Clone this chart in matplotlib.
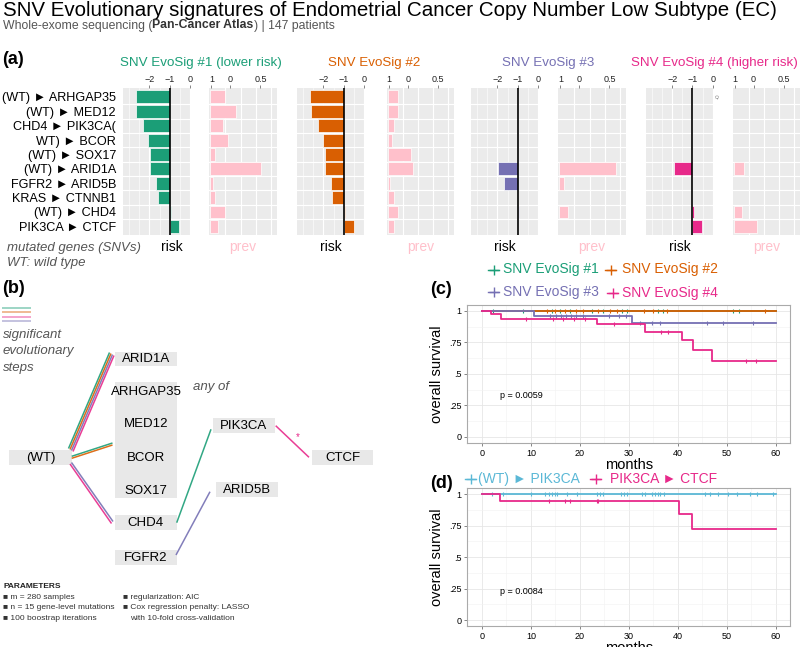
import matplotlib
matplotlib.use('Agg')
import matplotlib.pyplot as plt
import numpy as np
from matplotlib.patches import Rectangle

plt.rcParams['font.family'] = ['Liberation Sans', 'DejaVu Sans']

W, H = 800, 647
nan = np.nan

# ---------------- data ----------------
genes = ["(WT) \u25ba ARHGAP35", "(WT) \u25ba MED12", "CHD4 \u25ba PIK3CA(", "WT) \u25ba BCOR",
         "(WT) \u25ba SOX17", "(WT) \u25ba ARID1A", "FGFR2 \u25ba ARID5B", "KRAS \u25ba CTNNB1",
         "(WT) \u25ba CHD4", "PIK3CA \u25ba CTCF"]
sig_titles = ["SNV EvoSig #1 (lower risk)", "SNV EvoSig #2", "SNV EvoSig #3", "SNV EvoSig #4 (higher risk)"]
sig_colors = ["#1B9E77", "#D95F02", "#7570B3", "#E7298A"]
risk1 = [-2.66, -2.65, -2.32, -2.07, -1.98, -1.96, -1.68, -1.59, -0.95, -0.53]
risk2 = [-2.64, -2.63, -2.29, -2.03, -1.93, -1.92, -1.65, -1.56, -0.93, -0.52]
risk3 = [nan, nan, nan, nan, nan, -1.95, -1.68, nan, -0.95, nan]
risk4 = [nan, nan, nan, nan, nan, -1.91, nan, nan, -0.94, -0.55]
prev1 = [0.25, 0.42, 0.21, 0.30, 0.08, 0.84, 0.045, 0.08, 0.25, 0.13]
prev2 = [0.17, 0.17, 0.10, 0.07, 0.38, 0.42, 0.035, 0.10, 0.17, 0.10]
prev3 = [nan, nan, nan, nan, nan, 0.93, 0.07, nan, 0.14, nan]
prev4 = [nan, nan, nan, nan, nan, 0.17, nan, nan, 0.14, 0.38]
risk_base = -1
risk_ticks = [-2, -1, 0]
prev_tick_labels = ["1", "0", "0.5"]
prev_tick_pos = [0.017, 0.33, 0.83]

# Kaplan-Meier (c)
c_labels = ["SNV EvoSig #1", "SNV EvoSig #2", "SNV EvoSig #3", "SNV EvoSig #4"]
c_t1 = [0, 60]; c_s1 = [1, 1]
c_cens1 = [2.3, 8.4, 14.2, 15.9, 18, 22.4, 24.8, 28.5, 29.6, 36, 37, 51.3, 52.4]
c_t2 = [0, 60]; c_s2 = [1, 1]
c_cens2 = [13.2, 14.9, 17, 19.3, 20.7, 23.8, 26.1, 27.5, 33, 35, 37.7, 57.8]
c_t3 = [0, 10.6, 30.7, 60]; c_s3 = [1, 0.962, 0.902, 0.902]
c_cens3 = [13.9, 15.1, 16.1, 17.2, 18.2, 19.2, 20.6, 26, 28, 29.4, 32.3, 34.7, 36.4, 45.9, 49.3, 55.4]
c_t4 = [0, 1.8, 3.8, 23.5, 33.3, 40.8, 43.2, 46.9, 60]
c_s4 = [1, 0.975, 0.94, 0.897, 0.835, 0.766, 0.69, 0.605, 0.605]
c_cens4 = [9, 14.5, 16.6, 18.8, 21, 27, 36.5, 38, 54, 56]
c_p = "p = 0.0059"

# Kaplan-Meier (d)
d_labels = ["(WT) \u25ba PIK3CA", "PIK3CA \u25ba CTCF"]
d_colors = ["#5BB8D6", "#E7298A"]
d_t1 = [0, 60]; d_s1 = [1, 1]
d_cens1 = [2.0, 4.2, 10.0, 12.9, 13.6, 14.4, 14.9, 15.4, 17.4, 19.5, 23.4, 24.1, 24.8, 28.3, 29.0,
           29.7, 32.6, 33.3, 34.7, 35.3, 36.0, 36.4, 37.2, 45.6, 46.6, 48.3, 50.3, 52.0, 54.7, 56.1, 59.5]
d_t2 = [0, 3.7, 40.3, 42.9, 60]; d_s2 = [1, 0.947, 0.841, 0.724, 0.724]
d_cens2 = [13.6, 17, 18, 23.4, 23.8]
d_p = "p = 0.0084"
y_ticks = [0, 0.25, 0.5, 0.75, 1]
y_ticklabels = ["0", ".25", ".5", ".75", "1"]
x_ticks = [0, 10, 20, 30, 40, 50, 60]

# ---------------- figure ----------------
fig = plt.figure(figsize=(8, 6.47), dpi=100)


def box(x0, y0, x1, y1):
    return [x0 / W, 1 - y1 / H, (x1 - x0) / W, (y1 - y0) / H]


ax0 = fig.add_axes([0, 0, 1, 1])
ax0.set_xlim(0, W)
ax0.set_ylim(H, 0)
ax0.axis('off')

title = ax0.text(3, 16.5, "SNV Evolutionary signatures of Endometrial Cancer Copy Number Low Subtype (EC)",
                 fontsize=14, va='baseline', ha='left', color='black')
fig.canvas.draw()
tw = title.get_window_extent().width
title.set_fontsize(14 * 780 / tw)

t1 = ax0.text(3, 28.5, "Whole-exome sequencing (", fontsize=8.8, color='#555555', va='baseline', ha='left')
fig.canvas.draw()
t2 = ax0.annotate("Pan-Cancer Atlas", xy=(1, 0), xycoords=t1, va='bottom', ha='left',
                  fontsize=8.8, fontweight='bold', color='#333333')
ax0.annotate(") | 147 patients", xy=(1, 0), xycoords=t2, va='bottom', ha='left',
             fontsize=8.8, color='#555555')

ax0.text(2, 64, "(a)", fontsize=13, fontweight='bold', va='baseline', ha='left')
ax0.text(2, 293, "(b)", fontsize=13, fontweight='bold', va='baseline', ha='left')
ax0.text(430, 294, "(c)", fontsize=13, fontweight='bold', va='baseline', ha='left')
ax0.text(430, 488, "(d)", fontsize=13, fontweight='bold', va='baseline', ha='left')

# ---------------- panel (a) ----------------
risks = [risk1, risk2, risk3, risk4]
prevs = [prev1, prev2, prev3, prev4]
risk_x = [123, 297, 471, 645.7]
prev_x = [209.3, 386.7, 558.3, 732.7]
title_x = [201, 374, 548, 714]
risk_label_x = [0.73, 0.5, 0.5, 0.5]
pw = 67.5
top, bot = 88.3, 235
rows = np.arange(len(genes))


def style_panel(ax):
    ax.set_facecolor('#EBEBEB')
    for s in ax.spines.values():
        s.set_visible(False)
    ax.set_ylim(len(genes) - 0.4, -0.6)
    for b in np.arange(0.5, len(genes) - 0.5, 1):
        ax.axhline(b, color='white', lw=0.8, zorder=0.5)
    ax.xaxis.tick_top()
    ax.tick_params(axis='x', length=2, width=0.5, color='#555555', labelsize=6.5, pad=1,
                   labelcolor='#222222')
    ax.set_axisbelow(True)


for i in range(4):
    r = np.array(risks[i], dtype=float)
    p = np.array(prevs[i], dtype=float)
    axr = fig.add_axes(box(risk_x[i], top, risk_x[i] + pw, bot))
    style_panel(axr)
    axr.set_xlim(-3.3, 0.02)
    axr.set_xticks(risk_ticks)
    axr.set_xticks([-3, -2.5, -1.5, -0.5], minor=True)
    axr.tick_params(axis='x', which='minor', length=0)
    axr.grid(True, axis='x', which='major', color='white', lw=0.8)
    axr.grid(True, axis='x', which='minor', color='white', lw=0.4)
    m = ~np.isnan(r)
    axr.barh(rows[m], r[m] - risk_base, left=risk_base, height=0.9, color=sig_colors[i],
             edgecolor='white', linewidth=0.5, zorder=2)
    axr.axvline(risk_base, color='black', lw=1.2, zorder=3)
    if i == 0:
        axr.set_yticks(rows)
        axr.set_yticklabels(genes, fontsize=9.1)
        axr.tick_params(axis='y', length=0, pad=5)
    else:
        axr.set_yticks([])
    axr.text(risk_label_x[i], -0.035, "risk", transform=axr.transAxes, ha='center', va='top',
             fontsize=10, color='black')

    axp = fig.add_axes(box(prev_x[i], top, min(prev_x[i] + pw, W), bot))
    style_panel(axp)
    axp.set_xlim(-0.017, 1.1)
    for g in [0.25, 0.5, 0.75, 1.0]:
        axp.axvline(g, color='white', lw=0.8, zorder=0.5)
    axp.set_xticks(prev_tick_pos)
    axp.set_xticklabels(prev_tick_labels)
    axp.set_yticks([])
    mp = ~np.isnan(p)
    axp.barh(rows[mp], p[mp], left=0, height=0.9, color='#FFC0CB', edgecolor='white',
             linewidth=0.5, zorder=2)
    axp.text(0.5, -0.035, "prev", transform=axp.transAxes, ha='center', va='top',
             fontsize=10, color='#FFC0CB')

    ax0.text(title_x[i], 66, sig_titles[i], color=sig_colors[i], fontsize=9.6, ha='center',
             va='baseline')

ax0.text(718.5, 96, "-0", rotation=90, fontsize=4.5, color='#888888', ha='center', va='center')

ax0.text(7, 248, "mutated genes (SNVs)", fontsize=9.5, style='italic', color='#555555', va='center')
ax0.text(7, 263, "WT: wild type", fontsize=9.5, style='italic', color='#555555', va='center')

# ---------------- panel (b) ----------------
for y, c in zip([308.3, 311.7, 316.7, 321], [sig_colors[0], sig_colors[1], sig_colors[3], sig_colors[2]]):
    ax0.plot([2, 31], [y, y], color=c, alpha=0.5, lw=1.2, solid_capstyle='butt')
for y, s in zip([335, 351, 368], ["significant", "evolutionary", "steps"]):
    ax0.text(3, y, s, fontsize=9.5, style='italic', color='#555555', va='center')

box_color = '#E8E8E8'
nodes = {
    'ARID1A': (115, 351.7, 176.7, 366),
    'ANY': (115, 381.7, 176.7, 498.3),
    'CHD4': (115, 515, 176.7, 530),
    'FGFR2': (115, 550, 176.7, 565),
    '(WT)': (9, 450, 71.7, 465),
    'PIK3CA': (212.7, 418.3, 275, 433.3),
    'ARID5B': (216, 481.7, 277.7, 496.7),
    'CTCF': (311.7, 450, 373.3, 465),
}
for name, (x0, y0, x1, y1) in nodes.items():
    ax0.add_patch(Rectangle((x0, y0), x1 - x0, y1 - y0, facecolor=box_color, edgecolor='none'))
    if name != 'ANY':
        ax0.text((x0 + x1) / 2, (y0 + y1) / 2 + 0.5, name, fontsize=9.5, ha='center', va='center')
for name, y in zip(["ARHGAP35", "MED12", "BCOR", "SOX17"], [391.7, 424.3, 458.3, 490.7]):
    ax0.text(146, y, name, fontsize=9.5, ha='center', va='center')
ax0.text(193, 387, "any of", fontsize=9.5, style='italic', color='#555555', va='center')

edges = [
    ((68.5, 448.5), (109.5, 352.5), sig_colors[0]),
    ((70.0, 449.5), (111.0, 353.5), sig_colors[1]),
    ((71.5, 450.5), (112.5, 354.5), sig_colors[2]),
    ((73.0, 451.5), (114.0, 355.5), sig_colors[3]),
    ((71.7, 456.3), (112.5, 443.0), sig_colors[0]),
    ((71.7, 458.3), (112.5, 445.0), sig_colors[1]),
    ((71.5, 462.5), (113.0, 521.5), sig_colors[2]),
    ((70.0, 464.0), (111.5, 523.5), sig_colors[3]),
    ((176.7, 522.7), (211.0, 429.3), sig_colors[0]),
    ((176.0, 555.0), (210.0, 491.7), sig_colors[2]),
    ((275.7, 425.7), (309.0, 457.3), sig_colors[3]),
]
for (xa, ya), (xb, yb), c in edges:
    ax0.plot([xa, xb], [ya, yb], color=c, lw=1.1, alpha=0.9, solid_capstyle='butt')
ax0.text(297.7, 437.5, "*", fontsize=7, color=sig_colors[3], ha='center', va='center')

ax0.text(3, 586.7, "PARAMETERS", fontsize=6, fontweight='bold', va='center', color='#222222')
for y, s in zip([597.3, 607.7, 618], ["\u25a0 m = 280 samples", "\u25a0 n = 15 gene-level mutations",
                                       "\u25a0 100 boostrap iterations"]):
    ax0.text(3, y, s, fontsize=6, va='center', color='#333333')
ax0.text(123, 597.3, "\u25a0 regularization: AIC", fontsize=6, va='center', color='#333333')
ax0.text(123, 607.7, "\u25a0 Cox regression penalty: LASSO", fontsize=6, va='center', color='#333333')
ax0.text(130, 618, "with 10-fold cross-validation", fontsize=6, va='center', color='#333333')


# ---------------- panels (c), (d) ----------------
def km_axes(rect):
    ax = fig.add_axes(rect)
    ax.set_facecolor('white')
    for s in ax.spines.values():
        s.set_color('#AAAAAA')
        s.set_linewidth(0.8)
    ax.set_xlim(-3, 63)
    ax.set_ylim(-0.05, 1.05)
    ax.set_xticks(x_ticks)
    ax.set_xticks([5, 15, 25, 35, 45, 55], minor=True)
    ax.set_yticks(y_ticks)
    ax.set_yticklabels(y_ticklabels)
    ax.set_yticks([0.125, 0.375, 0.625, 0.875], minor=True)
    ax.grid(True, which='major', color='#E6E6E6', lw=0.6)
    ax.grid(True, which='minor', color='#F2F2F2', lw=0.4)
    ax.tick_params(which='major', length=2, width=0.5, color='#555555', labelsize=6.5, pad=2)
    ax.tick_params(which='minor', length=0)
    ax.set_axisbelow(True)
    ax.set_ylabel("overall survival", fontsize=10.5, labelpad=4)
    ax.set_xlabel("months", fontsize=10.5, labelpad=0)
    return ax


def km_curve(ax, t, s, cens, color):
    t = np.asarray(t, float)
    s = np.asarray(s, float)
    ax.step(t, s, where='post', color=color, lw=1.3)
    cens = np.asarray(cens, float)
    idx = np.searchsorted(t, cens, side='right') - 1
    ax.plot(cens, s[idx], linestyle='none', marker='|', markersize=3.5, mew=0.8, color=color)


axc = km_axes(box(467.3, 304.7, 790.4, 443))
for t, s, cz, col in zip([c_t1, c_t2, c_t3, c_t4], [c_s1, c_s2, c_s3, c_s4],
                         [c_cens1, c_cens2, c_cens3, c_cens4], sig_colors):
    km_curve(axc, t, s, cz, col)
axc.text(3.7, 0.33, c_p, fontsize=6.5, va='center', ha='left')

axd = km_axes(box(467.3, 488, 790.4, 626.3))
for t, s, cz, col in zip([d_t1, d_t2], [d_s1, d_s2], [d_cens1, d_cens2], d_colors):
    km_curve(axd, t, s, cz, col)
axd.text(3.7, 0.23, d_p, fontsize=6.5, va='center', ha='left')

# legends (glyph + text)
c_leg = [(488, 503, 269.5), (605, 622, 269.5), (488, 503, 292), (607, 622, 293)]
for (gx, tx, y), lab, col in zip(c_leg, c_labels, sig_colors):
    ax0.plot([gx, gx + 11], [y, y], color=col, lw=1.0)
    ax0.plot([gx + 5.5], [y], marker='+', markersize=7, mew=1.0, color=col)
    ax0.text(tx, y, lab, color=col, fontsize=10, va='center', ha='left')
d_leg = [(465, 477.5, 479.3), (590, 610, 479.3)]
for (gx, tx, y), lab, col in zip(d_leg, d_labels, d_colors):
    ax0.plot([gx, gx + 11], [y, y], color=col, lw=1.0)
    ax0.plot([gx + 5.5], [y], marker='+', markersize=7, mew=1.0, color=col)
    ax0.text(tx, y, lab, color=col, fontsize=10, va='center', ha='left')

fig.savefig("out.png", dpi=100)
